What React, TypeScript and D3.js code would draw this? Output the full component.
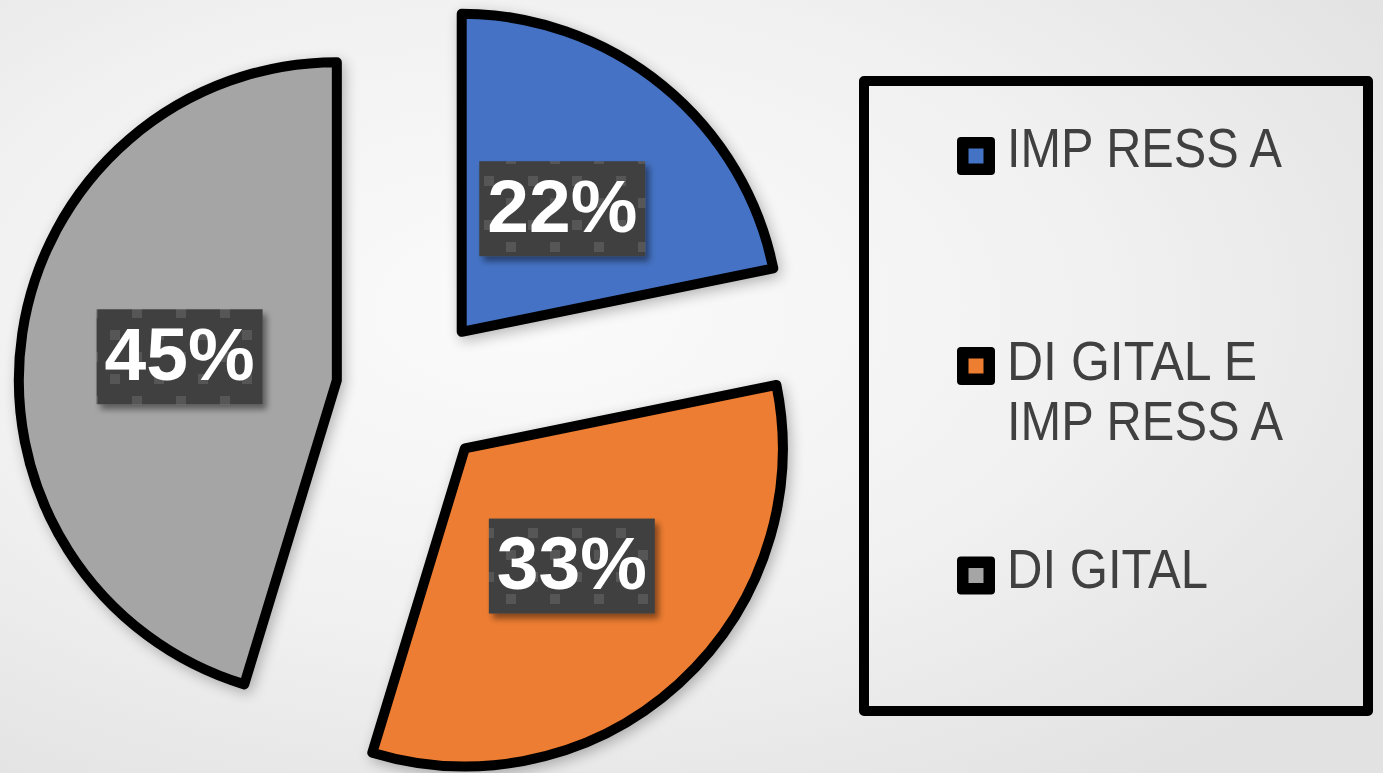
import React from "react";
import * as d3 from "d3";

const categories = ["IMPRESSA", "DIGITAL E IMPRESSA", "DIGITAL"];
const values = [21.8, 32.9, 45.3];
const colors = ["#4472C4", "#ED7D31", "#A5A5A5"];
const legendLines = [["IMP RESS A"], ["DI GITAL E", "IMP RESS A"], ["DI GITAL"]];
const legendWidths = [[275], [250, 276], [201]];

const W = 1383;
const H = 773;
const cx = 413;
const cy = 391.5;
const R = 318;
const explode = 77;

export default function App() {
  const pie = d3.pie<number>().sort(null).startAngle(0).endAngle(2 * Math.PI);
  const arcs = pie(values);
  const arc = d3.arc<d3.PieArcDatum<number>>().innerRadius(0).outerRadius(R);
  const total = d3.sum(values);

  const legendX = 1007;
  const legendBaselines = [[167], [380, 440], [588]];
  const markerCY = [156, 366, 575.5];

  return (
    <svg width={W} height={H} style={{ position: "absolute", left: 0, top: 0 }}>
      <defs>
        <radialGradient id="bg" cx="38%" cy="40%" r="75%">
          <stop offset="0%" stopColor="#fbfbfb" />
          <stop offset="55%" stopColor="#f1f1f1" />
          <stop offset="100%" stopColor="#e2e2e2" />
        </radialGradient>
        <filter id="shadow" x="-20%" y="-20%" width="140%" height="140%">
          <feGaussianBlur in="SourceAlpha" stdDeviation="7" />
          <feOffset dx="3" dy="4" result="b" />
          <feComponentTransfer>
            <feFuncA type="linear" slope="0.28" />
          </feComponentTransfer>
          <feMerge>
            <feMergeNode />
            <feMergeNode in="SourceGraphic" />
          </feMerge>
        </filter>
        <filter id="boxshadow" x="-20%" y="-20%" width="140%" height="150%">
          <feGaussianBlur in="SourceAlpha" stdDeviation="3" />
          <feOffset dx="4" dy="5" result="b" />
          <feComponentTransfer>
            <feFuncA type="linear" slope="0.45" />
          </feComponentTransfer>
          <feMerge>
            <feMergeNode />
            <feMergeNode in="SourceGraphic" />
          </feMerge>
        </filter>
        <pattern id="checks" width="44" height="44" patternUnits="userSpaceOnUse">
          <rect width="44" height="44" fill="#404040" />
          <rect x="0" y="0" width="10" height="10" fill="#575757" />
          <rect x="22" y="22" width="10" height="10" fill="#575757" />
        </pattern>
      </defs>
      <rect width={W} height={H} fill="url(#bg)" />

      {arcs.map((a, i) => {
        const mid = (a.startAngle + a.endAngle) / 2;
        const ox = cx + explode * Math.sin(mid);
        const oy = cy - explode * Math.cos(mid);
        return (
          <g key={"s" + i} transform={`translate(${ox},${oy})`} filter="url(#shadow)">
            <path
              d={arc(a) || ""}
              fill={colors[i]}
              stroke="#000"
              strokeWidth={10}
              strokeLinejoin="round"
            />
          </g>
        );
      })}

      {arcs.map((a, i) => {
        const mid = (a.startAngle + a.endAngle) / 2;
        const ox = cx + explode * Math.sin(mid);
        const oy = cy - explode * Math.cos(mid);
        const [lx, ly] = arc.centroid(a);
        const x = ox + lx;
        const y = oy + ly;
        const pct = Math.round((a.value / total) * 100) + "%";
        const bw = 166;
        const bh = 95;
        return (
          <g key={"l" + i}>
            <rect
              x={x - bw / 2}
              y={y - bh / 2}
              width={bw}
              height={bh}
              fill="url(#checks)"
              filter="url(#boxshadow)"
            />
            <text
              x={x}
              y={y + 23}
              textAnchor="middle"
              fill="#fff"
              fontFamily="'Liberation Sans', Arial, sans-serif"
              fontWeight="bold"
              fontSize={75}
            >
              {pct}
            </text>
          </g>
        );
      })}

      <rect
        x={864}
        y={81}
        width={504}
        height={630}
        fill="none"
        stroke="#000"
        strokeWidth={10}
        strokeLinejoin="round"
      />

      {categories.map((c, i) => (
        <g key={"lg" + i}>
          <rect
            x={976 - 19}
            y={markerCY[i] - 19}
            width={38}
            height={38}
            rx={4}
            fill="#000"
          />
          <rect
            x={976 - 7.5}
            y={markerCY[i] - 7.5}
            width={15}
            height={15}
            fill={colors[i]}
          />
          {legendLines[i].map((t, j) => (
            <text
              key={j}
              x={legendX}
              y={legendBaselines[i][j]}
              fill="#404040"
              fontFamily="'Liberation Sans', Arial, sans-serif"
              fontSize={55}
              textLength={legendWidths[i][j]}
              lengthAdjust="spacingAndGlyphs"
            >
              {t}
            </text>
          ))}
        </g>
      ))}
    </svg>
  );
}
